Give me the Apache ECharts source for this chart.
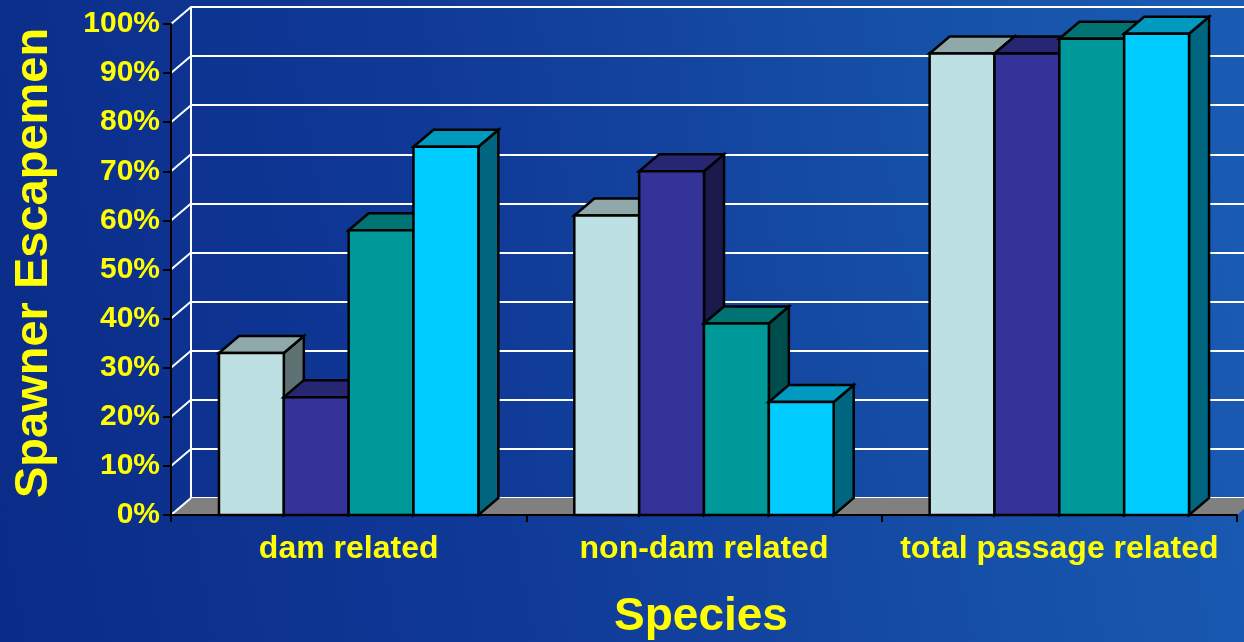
<!DOCTYPE html>
<html>
<head>
<meta charset="utf-8">
<title>Spawner Escapement by Species</title>
<script src="https://cdn.jsdelivr.net/npm/echarts@6/dist/echarts.min.js"></script>
<style>
  html, body { margin: 0; padding: 0; }
  #chart {
    width: 1244px; height: 642px;
    background: linear-gradient(80deg, #0b2b88 0%, #103a98 40%, #1650a8 75%, #1a5cb4 100%);
  }
</style>
</head>
<body>
<div id="chart"></div>
<script>
// Categories and the four bar series (percent of spawner escapement)
const categories = ['dam related', 'non-dam related', 'total passage related'];
const series1 = [33, 61, 94];
const series2 = [24, 70, 94];
const series3 = [58, 39, 97];
const series4 = [75, 23, 98];
const yTicks = [0, 10, 20, 30, 40, 50, 60, 70, 80, 90, 100];

// Face colours for each series: front, top, side
const palette = [
  ['#bde0e3', '#8fa9ab', '#5f7273'],
  ['#333399', '#262673', '#1a1a4d'],
  ['#009999', '#007373', '#004d4d'],
  ['#00ccff', '#0099bf', '#006680']
];

// Depth offset of the pseudo-3D box (right and up)
const DX = 20, DY = 17;
const BAR_RATIO = 0.1825;   // one bar's share of the category band
const FONT = '"Liberation Sans", Arial, sans-serif';

const chart = echarts.init(document.getElementById('chart'), null, { renderer: 'canvas' });

function barRenderer(k) {
  return function (params, api) {
    const cat = api.value(0);
    const val = api.value(1);
    const band = api.size([1, 0])[0];
    const w = band * BAR_RATIO;
    const base = api.coord([cat, 0]);
    const top = api.coord([cat, val]);
    const x0 = base[0] + (k - 2) * w;
    const x1 = x0 + w;
    const yb = base[1];
    const yt = top[1];
    const c = palette[k];
    const edge = { stroke: '#000', lineWidth: 2.5, lineJoin: 'miter' };
    return {
      type: 'group',
      children: [
        { type: 'polygon', shape: { points: [[x1, yt], [x1 + DX, yt - DY], [x1 + DX, yb - DY], [x1, yb]] },
          style: Object.assign({ fill: c[2] }, edge) },
        { type: 'polygon', shape: { points: [[x0, yt], [x0 + DX, yt - DY], [x1 + DX, yt - DY], [x1, yt]] },
          style: Object.assign({ fill: c[1] }, edge) },
        { type: 'rect', shape: { x: x0, y: yt, width: w, height: yb - yt },
          style: Object.assign({ fill: c[0] }, edge) }
      ]
    };
  };
}

// Floor and left-wall lines of the box
function frameRenderer(params, api) {
  const cs = params.coordSys;
  const L = cs.x, R = cs.x + cs.width, B = cs.y + cs.height;
  const y = api.coord([0, api.value(1)])[1];
  const children = [];
  if (params.dataIndex === 0) {
    children.push({ type: 'polygon',
      shape: { points: [[L, B], [L + DX, B - DY], [R + DX, B - DY], [R, B]] },
      style: { fill: '#808080' } });
  }
  children.push({ type: 'line', shape: { x1: L, y1: y, x2: L + DX, y2: y - DY },
    style: { stroke: '#ffffff', lineWidth: 2 } });
  return { type: 'group', children: children };
}

const barData = [series1, series2, series3, series4];

const option = {
  backgroundColor: 'transparent',
  animation: false,
  grid: [
    { left: 171, right: 7, top: 24, bottom: 127, containLabel: false, outerBoundsMode: 'none' },
    { left: 191, right: -13, top: 7, bottom: 144, containLabel: false, outerBoundsMode: 'none' }
  ],
  xAxis: [
    { type: 'category', gridIndex: 0, data: categories, z: 5,
      axisLine: { lineStyle: { color: '#000', width: 2 } },
      axisTick: { show: true, length: 7, interval: 0, lineStyle: { color: '#000', width: 2 } },
      axisLabel: { color: '#ffff00', fontFamily: FONT, fontWeight: 'bold', fontSize: 32, margin: 18,
        interval: 0, hideOverlap: false },
      splitLine: { show: false } },
    { type: 'value', gridIndex: 1, min: 0, max: 1, show: false }
  ],
  yAxis: [
    { type: 'value', gridIndex: 0, min: 0, max: 100, interval: 10, z: 5,
      axisLine: { show: true, lineStyle: { color: '#000', width: 2 } },
      axisTick: { show: true, length: 8, lineStyle: { color: '#000', width: 2 } },
      axisLabel: { color: '#ffff00', fontFamily: FONT, fontWeight: 'bold', fontSize: 30, margin: 11,
        formatter: '{value}%' },
      splitLine: { show: false } },
    { type: 'value', gridIndex: 1, min: 0, max: 100, interval: 10,
      axisLine: { show: true, lineStyle: { color: '#ffffff', width: 2 } },
      axisTick: { show: false },
      axisLabel: { show: false },
      splitLine: { show: true, lineStyle: { color: '#ffffff', width: 2 } } }
  ],
  graphic: [
    { type: 'text', x: 34, y: 498, rotation: Math.PI / 2, z: 10,
      style: { text: 'Spawner Escapement', fill: '#ffff00', font: 'bold 47px ' + FONT,
        align: 'left', verticalAlign: 'middle', width: 472, overflow: 'truncate', ellipsis: '' } },
    { type: 'text', x: 701, y: 617, z: 10,
      style: { text: 'Species', fill: '#ffff00', font: 'bold 46px ' + FONT,
        align: 'center', verticalAlign: 'middle' } }
  ],
  series: [
    { type: 'custom', name: 'frame', xAxisIndex: 0, yAxisIndex: 0, z: 1, silent: true, clip: false,
      renderItem: frameRenderer, data: yTicks.map(v => [0, v]) }
  ].concat(barData.map((vals, k) => ({
    type: 'custom', name: 'Series ' + (k + 1), xAxisIndex: 0, yAxisIndex: 0, z: 2,
    silent: true, clip: false, renderItem: barRenderer(k),
    data: vals.map((v, i) => [i, v])
  })))
};

chart.setOption(option);
</script>
</body>
</html>
